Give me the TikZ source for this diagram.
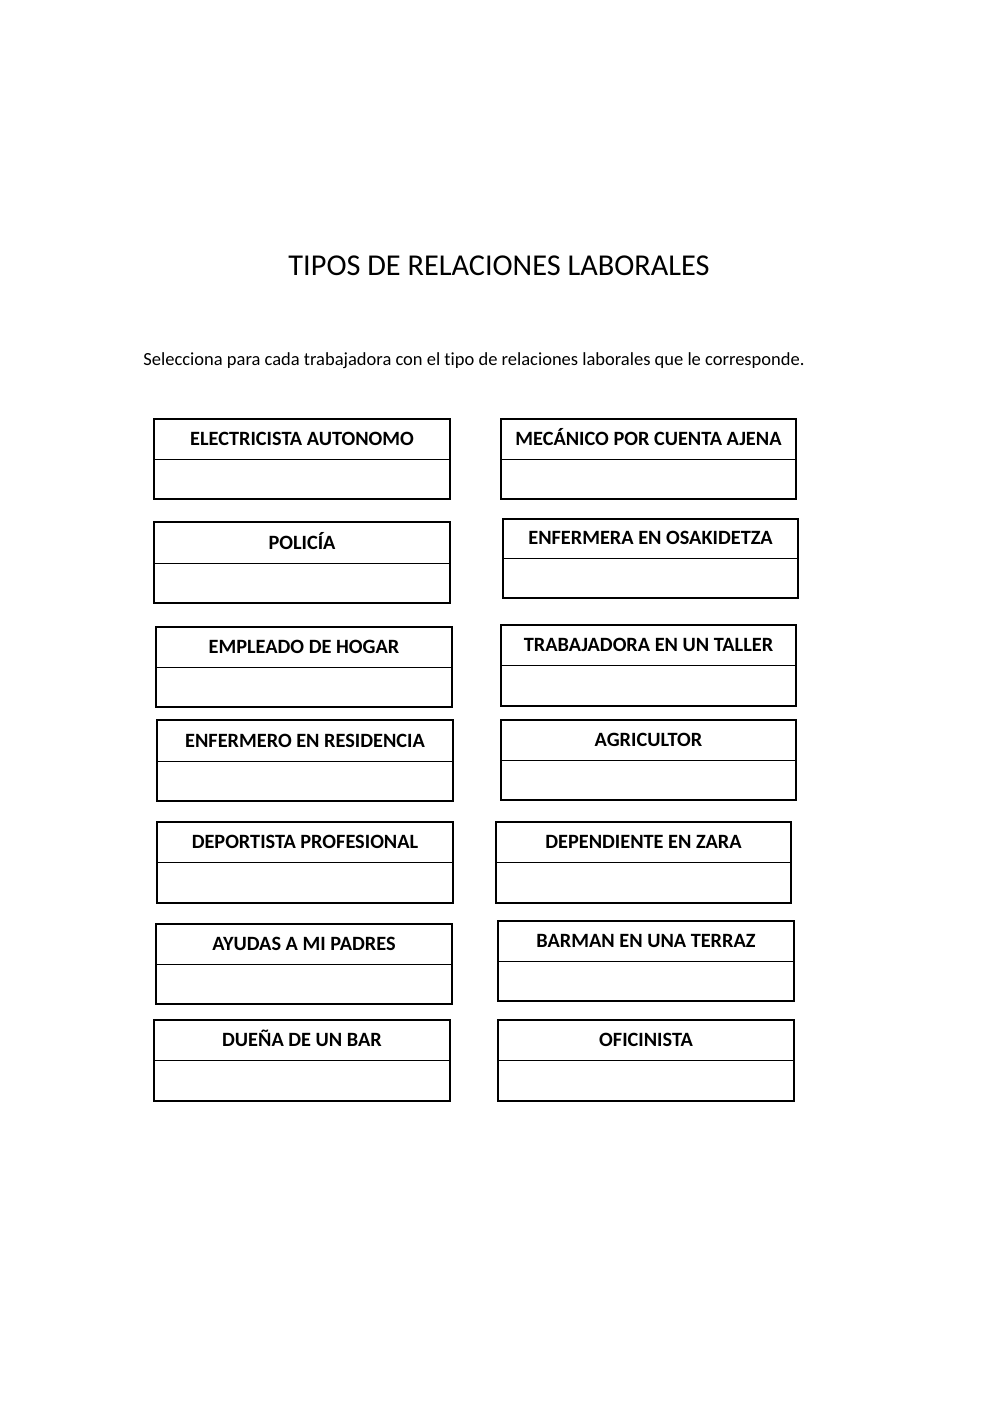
\documentclass[tikz,border=0pt]{standalone}
\usepackage{fontspec}
\setmainfont[Ligatures=NoCommon]{Carlito}
\begin{document}
\begin{tikzpicture}[x=1pt,y=-1pt,
  lbl/.style={font=\bfseries\fontsize{20.3}{24}\selectfont,anchor=base,inner sep=0pt},
  frame/.style={draw=black,line width=1.1pt}]
\useasboundingbox (0,0) rectangle (1000,1413);
\node[font=\fontsize{30.3}{34}\selectfont] (title) at (499,266) {TIPOS DE RELACIONES LABORALES};
\node[font=\fontsize{18.5}{22}\selectfont] (sub) at (474,361) {Selecciona para cada trabajadora con el tipo de relaciones laborales que le corresponde.};
\foreach \n/\xa/\xb/\ya/\ym/\yb/\t in {
 a/154/450/419/459/499/ELECTRICISTA AUTONOMO,
 b/501/796/419/459/499/MECÁNICO POR CUENTA AJENA,
 c/154/450/522/563/603/POLICÍA,
 d/503/798/519/558/598/ENFERMERA EN OSAKIDETZA,
 e/156/452/627/667/707/EMPLEADO DE HOGAR,
 f/501/796/625/665/706/TRABAJADORA EN UN TALLER,
 g/157/453/720/761/801/ENFERMERO EN RESIDENCIA,
 h/501/796/720/760/800/AGRICULTOR,
 i/157/453/822/862/903/DEPORTISTA PROFESIONAL,
 j/496/791/822/862/903/DEPENDIENTE EN ZARA,
 k/156/452/924/964/1004/AYUDAS A MI PADRES,
 l/498/794/921/961/1001/BARMAN EN UNA TERRAZ,
 m/154/450/1020/1060/1101/DUEÑA DE UN BAR,
 n/498/794/1020/1060/1101/OFICINISTA}{
  \draw[frame] (\xa,\ya) rectangle (\xb,\yb);
  \draw[line width=0.6pt] (\xa,\ym) -- (\xb,\ym);
  \node[lbl] (box\n) at ({(\xa+\xb)/2},{\ym-14}) {\t};
}
\end{tikzpicture}
\end{document}
